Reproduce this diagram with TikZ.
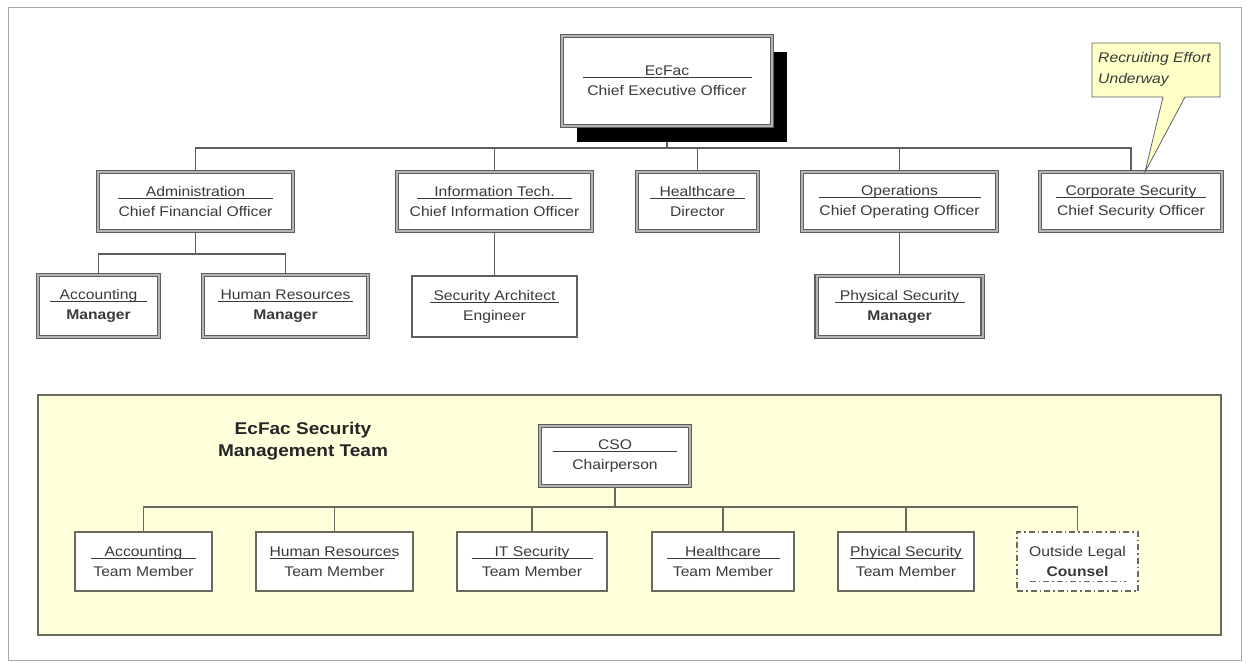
\documentclass[tikz,border=0pt]{standalone}
\usepackage{fontspec}
\setmainfont{Liberation Sans}[FakeStretch=1.12]
\usetikzlibrary{shadows,calc}
\definecolor{txt}{HTML}{3A3A3A}
\definecolor{ln}{HTML}{5E5E5E}
\definecolor{dbl}{HTML}{B4B4B4}
\definecolor{teamfill}{HTML}{FFFFDC}
\definecolor{teamln}{HTML}{6A6A5C}
\definecolor{callfill}{HTML}{FFFFC8}
\newcommand{\ulb}[2]{\makebox[#1]{\rlap{\rule[-2.5pt]{#1}{0.9pt}}\hfill#2\hfill}}
\pgfdeclarelayer{back}
\pgfdeclarelayer{bg}
\pgfsetlayers{back,bg,main}
\begin{document}
\begin{tikzpicture}[x=1pt,y=-1pt,
  every node/.style={text=txt, font=\fontsize{14}{20}\selectfont, align=center, inner sep=0pt},
  dblbox/.style={rectangle, draw=ln, line width=1.1pt, double=dbl, double distance=2pt, fill=white},
  thinbox/.style={rectangle, draw=ln, line width=1.2pt, fill=white},
  teambox/.style={rectangle, draw=teamln, line width=1.2pt, fill=white},
  legalbox/.style={rectangle, draw=teamln, line width=1.2pt, fill=white, dash pattern=on 6pt off 3pt on 1.5pt off 3pt},
  conn/.style={draw=ln, line width=1.3pt},
  tconn/.style={draw=teamln, line width=1.3pt},
  sz/.style 2 args={minimum width=#1, minimum height=#2}]
\useasboundingbox (0,0) rectangle (1247,662);
\begin{pgfonlayer}{back}
  \draw[gray!70, line width=1pt] (8,7) rectangle (1241,660);
  \draw[teamln, line width=1.1pt, fill=teamfill] (38,395) rectangle (1221,635);
\end{pgfonlayer}

% top level
\node[dblbox, sz={210}{90}, drop shadow={shadow xshift=15pt, shadow yshift=-16pt, fill=black, opacity=1}] (ceo) at (667,81) {\ulb{169pt}{EcFac}\\Chief Executive Officer};

% level 2
\node[dblbox, sz={195}{59}] (admin) at (195.5,201.5) {\ulb{155pt}{Administration}\\Chief Financial Officer};
\node[dblbox, sz={195}{59}] (it) at (494.5,201.5) {\ulb{155pt}{Information Tech.}\\Chief Information Officer};
\node[dblbox, sz={121}{59}] (hc) at (697.5,201.5) {\ulb{95pt}{Healthcare}\\Director};
\node[dblbox, sz={195}{59}] (ops) at (899.5,201.5) {\ulb{162pt}{Operations}\\Chief Operating Officer};
\node[dblbox, sz={182}{59}] (csec) at (1131,201.5) {\ulb{150pt}{Corporate Security}\\Chief Security Officer};

% level 3
\node[dblbox, sz={121}{62}] (acc) at (98.5,306) {\ulb{97pt}{Accounting}\\\textbf{Manager}};
\node[dblbox, sz={165}{62}] (hrm) at (285.5,306) {\ulb{135pt}{Human Resources}\\\textbf{Manager}};
\node[thinbox, sz={165}{61}] (sa) at (494.5,306.5) {\ulb{129pt}{Security Architect}\\Engineer};
\node[dblbox, sz={166}{61}] (psm) at (899.5,306.5) {\ulb{130pt}{Physical Security}\\\textbf{Manager}};

% callout
\draw[draw=gray!75!black, line width=0.8pt, fill=callfill] (1092,43) -- (1220,43) -- (1220,97) -- (1185,97) -- (1145,172) -- (1163,97) -- (1092,97) -- cycle;
\node[anchor=west, align=left, font=\itshape\fontsize{14}{21}\selectfont] (note) at (1098,69.5) {Recruiting Effort\\Underway};

% connectors
\coordinate (b1) at (667,148);
\coordinate (b2) at (195.5,254);
\begin{pgfonlayer}{bg}
  \draw[conn] (ceo.south) -- (b1) -| (admin.north);
  \draw[conn] (b1) -| (it.north);
  \draw[conn] (b1) -| (hc.north);
  \draw[conn] (b1) -| (ops.north);
  \draw[conn] (b1) -| (csec.north);
  \draw[conn] (admin.south) -- (b2) -| (acc.north);
  \draw[conn] (b2) -| (hrm.north);
  \draw[conn] (it.south) -- (sa.north);
  \draw[conn] (ops.south) -- (psm.north);
\end{pgfonlayer}

% team section
\node[font=\bfseries\fontsize{17}{22}\selectfont, text=black!85] (title) at (303,441) {EcFac Security\\Management Team};
\node[dblbox, sz={150}{60}] (cso) at (615,456) {\ulb{124pt}{CSO}\\Chairperson};
\node[teambox, sz={137}{59}] (tacc) at (143.5,561.5) {\ulb{105pt}{Accounting}\\Team Member};
\node[teambox, sz={157}{59}] (thr) at (334.5,561.5) {\ulb{125pt}{Human Resources}\\Team Member};
\node[teambox, sz={150}{59}] (tit) at (532,561.5) {\ulb{121pt}{IT Security}\\Team Member};
\node[teambox, sz={142}{59}] (thc) at (723,561.5) {\ulb{113pt}{Healthcare}\\Team Member};
\node[teambox, sz={136}{59}] (tps) at (906,561.5) {\ulb{113pt}{Phyical Security}\\Team Member};
\node[legalbox, sz={121}{59}] (tol) at (1077.5,561.5) {Outside Legal\\\textbf{Counsel}};
\draw[teamln, line width=1.1pt, dash pattern=on 6pt off 3pt on 1.5pt off 3pt] ($(tol.south)+(-48,-10)$) -- ($(tol.south)+(48,-10)$);

\coordinate (b3) at (615,507);
\draw[tconn] (cso.south) -- (b3) -| (tacc.north);
\draw[tconn] (b3) -| (thr.north);
\draw[tconn] (b3) -| (tit.north);
\draw[tconn] (b3) -| (thc.north);
\draw[tconn] (b3) -| (tps.north);
\draw[tconn] (b3) -| (tol.north);
\end{tikzpicture}
\end{document}
